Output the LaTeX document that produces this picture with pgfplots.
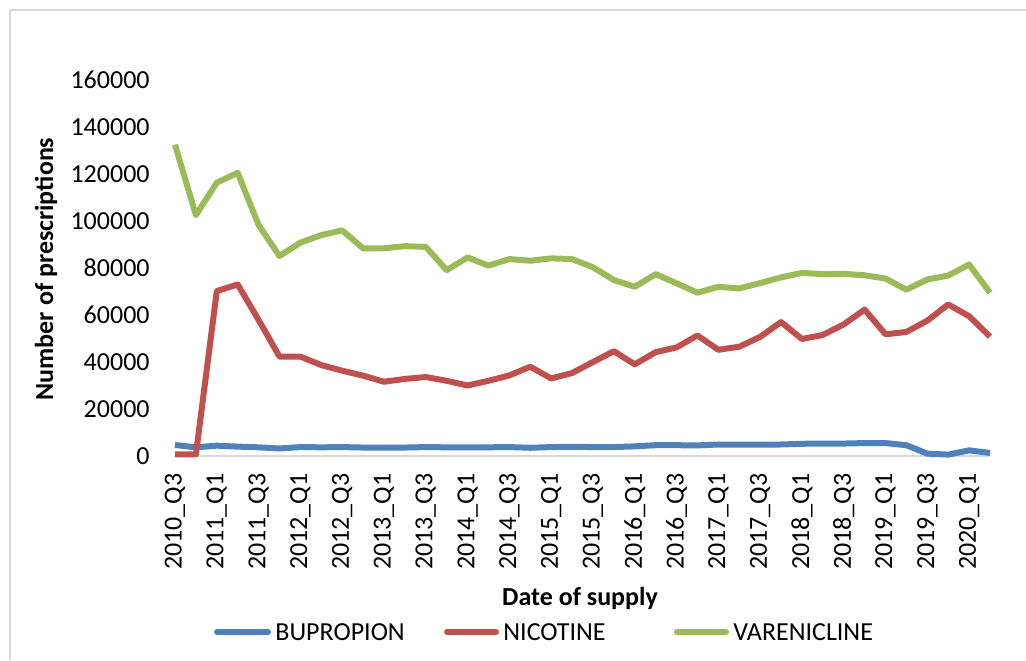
\documentclass[border=0pt]{standalone}
\usepackage{pgfplots}
\pgfplotsset{compat=1.18}
\usepackage{fontspec}
\setmainfont{Carlito}
\definecolor{cblue}{HTML}{4F81BD}
\definecolor{cred}{HTML}{C0504D}
\definecolor{cgreen}{HTML}{9BBB59}
\definecolor{cgrid}{HTML}{D9D9D9}
\begin{document}
\begin{tikzpicture}
\useasboundingbox (0,0) rectangle (513pt,330pt);
\draw[cgrid, line width=1pt] (5pt,0) -- (5pt,325pt) -- (513pt,325pt);
\begin{axis}[
  at={(87.5pt,102pt)}, anchor=south west,
  scale only axis, width=407.5pt, height=188pt,
  xmin=0, xmax=39, ymin=0, ymax=160000,
  axis x line*=bottom, axis y line*=left,
  y axis line style={draw=none},
  x axis line style={draw=cgrid, line width=1pt, -},
  tick style={draw=none},
  xtick={0,2,...,38},
  xticklabels={2010\_Q3,2011\_Q1,2011\_Q3,2012\_Q1,2012\_Q3,2013\_Q1,2013\_Q3,2014\_Q1,2014\_Q3,2015\_Q1,2015\_Q3,2016\_Q1,2016\_Q3,2017\_Q1,2017\_Q3,2018\_Q1,2018\_Q3,2019\_Q1,2019\_Q3,2020\_Q1},
  xticklabel style={rotate=90, anchor=east, inner sep=0pt, font=\fontsize{13}{15}\selectfont},
  xticklabel shift=8.5pt,
  ytick={0,20000,...,160000},
  yticklabel style={anchor=east, inner sep=0pt, font=\fontsize{13}{15}\selectfont},
  yticklabel shift=12.5pt,
  scaled y ticks=false,
  /pgf/number format/assume math mode=true,
  y tick label style={/pgf/number format/.cd, fixed, 1000 sep={}},
  clip=false,
]
\addplot[cblue, line width=3pt, line join=round] coordinates {
(0,4700) (1,3700) (2,4400) (3,4000) (4,3700) (5,3200) (6,3800) (7,3700) (8,3800) (9,3600)
(10,3600) (11,3600) (12,3800) (13,3700) (14,3700) (15,3700) (16,3800) (17,3500) (18,3800) (19,3900)
(20,3800) (21,3800) (22,4100) (23,4600) (24,4600) (25,4500) (26,4900) (27,4800) (28,4800) (29,4900)
(30,5200) (31,5300) (32,5300) (33,5500) (34,5500) (35,4600) (36,1000) (37,600) (38,2400) (39,1300)
};
\addplot[cred, line width=3pt, line join=round] coordinates {
(0,700) (1,700) (2,70200) (3,73000) (4,57900) (5,42300) (6,42300) (7,38700) (8,36300) (9,34200)
(10,31600) (11,32800) (12,33600) (13,32000) (14,30000) (15,32000) (16,34300) (17,38000) (18,33000) (19,35300)
(20,40000) (21,44600) (22,39000) (23,44200) (24,46200) (25,51300) (26,45200) (27,46500) (28,50700) (29,57000)
(30,49800) (31,51500) (32,56000) (33,62300) (34,51800) (35,52800) (36,57600) (37,64500) (38,59500) (39,50800)
};
\addplot[cgreen, line width=3pt, line join=round] coordinates {
(0,132500) (1,102500) (2,116300) (3,120500) (4,98300) (5,85100) (6,90800) (7,94000) (8,96000) (9,88400)
(10,88400) (11,89300) (12,89000) (13,79100) (14,84500) (15,81000) (16,83800) (17,83100) (18,84100) (19,83800)
(20,80300) (21,74900) (22,72000) (23,77400) (24,73500) (25,69500) (26,72000) (27,71300) (28,73600) (29,76000)
(30,77900) (31,77400) (32,77500) (33,76900) (34,75500) (35,70800) (36,75100) (37,76800) (38,81500) (39,69500)
};
\end{axis}
\node[font=\fontsize{13}{15}\selectfont\bfseries] at (290pt,31pt) {Date of supply};
\node[font=\fontsize{13}{15}\selectfont\bfseries, rotate=90] at (23pt,195.5pt) {Number of prescriptions};
\draw[cblue, line width=3pt, line cap=round] (108.5pt,14pt) -- (134pt,14pt);
\node[anchor=west, inner sep=0pt, font=\fontsize{13}{15}\selectfont] at (137.5pt,14pt) {BUPROPION};
\draw[cred, line width=3pt, line cap=round] (223.5pt,14pt) -- (248pt,14pt);
\node[anchor=west, inner sep=0pt, font=\fontsize{13}{15}\selectfont] at (251.5pt,14pt) {NICOTINE};
\draw[cgreen, line width=3pt, line cap=round] (338.5pt,14pt) -- (363pt,14pt);
\node[anchor=west, inner sep=0pt, font=\fontsize{13}{15}\selectfont] at (366.5pt,14pt) {VARENICLINE};
\end{tikzpicture}
\end{document}
